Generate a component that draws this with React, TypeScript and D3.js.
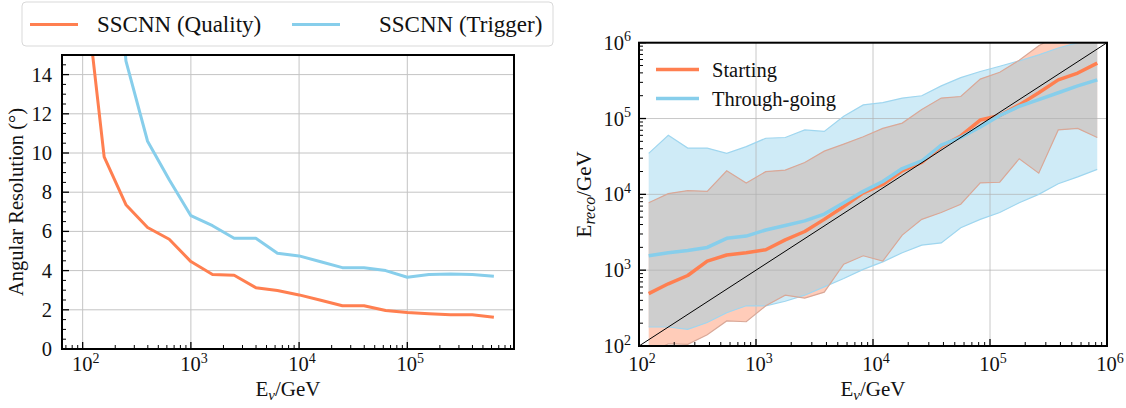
import React from "react";
import * as d3 from "d3";

const FONT = "'Liberation Serif', 'Times New Roman', serif";
const ORANGE = "#FF7F50";
const BLUE = "#87CEEB";

// left panel: angular resolution vs neutrino energy
const angEnergy = [100, 158, 251, 398, 631, 1000, 1585, 2512, 3981, 6310, 10000, 15849, 25119, 39811, 63096, 100000, 158489, 251189, 398107, 630957];
const angQuality = [19.5, 9.8, 7.36, 6.2, 5.6, 4.46, 3.8, 3.76, 3.13, 2.98, 2.76, 2.49, 2.21, 2.21, 1.96, 1.86, 1.8, 1.75, 1.75, 1.62];
const angTrigger = [60, 30, 14.7, 10.6, 8.64, 6.8, 6.29, 5.65, 5.65, 4.89, 4.75, 4.45, 4.15, 4.15, 4.0, 3.66, 3.8, 3.83, 3.8, 3.71];
const angTicks = [0, 2, 4, 6, 8, 10, 12, 14];
const angExps = [2, 3, 4, 5];

// right panel: reconstructed vs true energy (median and band)
const recEnergy = [121, 178, 261, 383, 562, 825, 1212, 1778, 2610, 3831, 5623, 8254, 12115, 17783, 26102, 38312, 56234, 82540, 121153, 177828, 261016, 383119, 562341, 825404];
const startMed = [490, 661, 851, 1318, 1585, 1698, 1862, 2512, 3236, 4677, 6918, 10470, 13490, 20420, 26300, 42660, 58880, 95500, 109600, 151400, 218800, 323600, 398100, 537000];
const startLo = [79, 107, 105, 141, 214, 209, 339, 468, 427, 513, 1200, 1549, 1318, 2900, 4677, 5754, 7413, 14130, 14450, 29510, 19050, 70790, 74130, 56230];
const startHi = [7762, 10230, 11220, 10960, 20420, 14130, 19950, 20890, 26300, 37150, 46000, 57540, 74000, 87000, 131800, 186200, 195000, 331100, 407400, 588800, 912000, 1259000, 1413000, 1585000];
const throughMed = [1549, 1698, 1820, 1995, 2630, 2818, 3388, 3890, 4467, 5495, 7762, 10960, 14790, 21880, 27540, 44670, 56230, 77620, 109600, 144500, 177800, 218800, 269200, 323600];
const throughLo = [178, 178, 166, 204, 275, 339, 339, 389, 468, 603, 776, 1023, 1288, 1698, 2138, 2291, 3631, 4677, 5754, 7762, 10000, 13800, 16980, 21380];
const throughHi = [34670, 60260, 40740, 40740, 34670, 42660, 54950, 56230, 70790, 67610, 107200, 151400, 162200, 186200, 199500, 269200, 346700, 416900, 489800, 575400, 691800, 851100, 1000000, 1122000];
const recExps = [2, 3, 4, 5, 6];

function minorLog(lo: number, hi: number) {
  const out: number[] = [];
  for (let d = Math.floor(Math.log10(lo)); d <= Math.ceil(Math.log10(hi)); d++) {
    for (let m = 2; m <= 9; m++) {
      const v = m * 10 ** d;
      if (v >= lo && v <= hi) out.push(v);
    }
  }
  return out;
}

function Pow({ x, y, exp, anchor }: { x: number; y: number; exp: number; anchor: string }) {
  return (
    <text x={x} y={y} textAnchor={anchor} fontFamily={FONT} fontSize={20.5} fill="#111">
      10
      <tspan dy={-8.5} fontSize={14}>{exp}</tspan>
    </text>
  );
}

function AngularPanel() {
  const left = 62, right = 514, top = 55, bottom = 349;
  const x = d3.scaleLog().domain([10 ** 1.809, 10 ** 5.986]).range([left, right]);
  const y = d3.scaleLinear().domain([0, 15]).range([bottom, top]);
  const line = d3.line<number>().x((_, i) => x(angEnergy[i])).y((d) => y(d));
  const [lo, hi] = x.domain();
  const minorY = d3.range(0, 15.01, 0.5).filter((v) => v % 2 !== 0);

  return (
    <g>
      <defs>
        <clipPath id="clipL">
          <rect x={left} y={top} width={right - left} height={bottom - top} />
        </clipPath>
      </defs>
      {/* grid */}
      {angExps.map((e) => (
        <line key={"gx" + e} x1={x(10 ** e)} x2={x(10 ** e)} y1={top} y2={bottom} stroke="#c4c4c4" strokeWidth={1} />
      ))}
      {angTicks.slice(1).map((t) => (
        <line key={"gy" + t} x1={left} x2={right} y1={y(t)} y2={y(t)} stroke="#c4c4c4" strokeWidth={1} />
      ))}
      <g clipPath="url(#clipL)">
        <path d={line(angQuality) || ""} fill="none" stroke={ORANGE} strokeWidth={3} strokeLinejoin="round" />
        <path d={line(angTrigger) || ""} fill="none" stroke={BLUE} strokeWidth={3} strokeLinejoin="round" />
      </g>
      {/* ticks */}
      {angExps.map((e) => (
        <line key={"tx" + e} x1={x(10 ** e)} x2={x(10 ** e)} y1={bottom} y2={bottom - 7} stroke="#000" strokeWidth={1.3} />
      ))}
      {minorLog(lo, hi).map((v) => (
        <line key={"mx" + v} x1={x(v)} x2={x(v)} y1={bottom} y2={bottom - 4} stroke="#000" strokeWidth={1} />
      ))}
      {angTicks.map((t) => (
        <line key={"ty" + t} x1={left} x2={left + 7} y1={y(t)} y2={y(t)} stroke="#000" strokeWidth={1.3} />
      ))}
      {minorY.map((t) => (
        <line key={"my" + t} x1={left} x2={left + 4} y1={y(t)} y2={y(t)} stroke="#000" strokeWidth={1} />
      ))}
      <rect x={left} y={top} width={right - left} height={bottom - top} fill="none" stroke="#000" strokeWidth={2} />
      {/* tick labels */}
      {angTicks.map((t) => (
        <text key={"ly" + t} x={52} y={y(t) + 7} textAnchor="end" fontFamily={FONT} fontSize={20.5} fill="#111">
          {t}
        </text>
      ))}
      {angExps.map((e) => (
        <Pow key={"lx" + e} x={x(10 ** e) + 3} y={371} exp={e} anchor="middle" />
      ))}
      <text x={(left + right) / 2} y={396} textAnchor="middle" fontFamily={FONT} fontSize={21} fill="#111">
        E<tspan dy={4} fontSize={15} fontStyle="italic">ν</tspan>
        <tspan dy={-4}>/GeV</tspan>
      </text>
      <text transform={`translate(23,${(top + bottom) / 2}) rotate(-90)`} textAnchor="middle" fontFamily={FONT} fontSize={20.5} fill="#111">
        Angular Resolution (°)
      </text>
      {/* legend */}
      <rect x={22} y={2} width={531} height={44} rx={4} fill="#fff" stroke="#d9d9d9" strokeWidth={1} />
      <line x1={30} x2={78} y1={24.5} y2={24.5} stroke={ORANGE} strokeWidth={3} />
      <text x={97} y={32} fontFamily={FONT} fontSize={23} fill="#111">SSCNN (Quality)</text>
      <line x1={292} x2={340} y1={24.5} y2={24.5} stroke={BLUE} strokeWidth={3} />
      <text x={379} y={32} fontFamily={FONT} fontSize={23} fill="#111">SSCNN (Trigger)</text>
    </g>
  );
}

function EnergyPanel() {
  const left = 639, right = 1107, top = 42.7, bottom = 346;
  const x = d3.scaleLog().domain([1e2, 1e6]).range([left, right]);
  const y = d3.scaleLog().domain([1e2, 1e6]).range([bottom, top]);
  const idx = d3.range(recEnergy.length);
  const band = (lo: number[], hi: number[]) =>
    d3.area<number>().x((i) => x(recEnergy[i])).y0((i) => y(lo[i])).y1((i) => y(hi[i]))(idx) || "";
  const edge = (vals: number[]) => d3.line<number>().x((i) => x(recEnergy[i])).y((i) => y(vals[i]))(idx) || "";
  const blueBand = band(throughLo, throughHi);
  const orangeBand = band(startLo, startHi);
  const minors = minorLog(1e2, 1e6);

  return (
    <g>
      <defs>
        <clipPath id="clipR">
          <rect x={left} y={top} width={right - left} height={bottom - top} />
        </clipPath>
        <clipPath id="clipBlue">
          <path d={blueBand} />
        </clipPath>
      </defs>
      <g clipPath="url(#clipR)">
        <path d={blueBand} fill={BLUE} fillOpacity={0.4} />
        <path d={orangeBand} fill={ORANGE} fillOpacity={0.4} />
        <g clipPath="url(#clipBlue)">
          <path d={orangeBand} fill="#cecece" />
        </g>
        {recExps.map((e) => (
          <line key={"gx" + e} x1={x(10 ** e)} x2={x(10 ** e)} y1={top} y2={bottom} stroke="#b0b0b0" strokeOpacity={0.7} strokeWidth={1} />
        ))}
        {recExps.map((e) => (
          <line key={"gy" + e} x1={left} x2={right} y1={y(10 ** e)} y2={y(10 ** e)} stroke="#b0b0b0" strokeOpacity={0.7} strokeWidth={1} />
        ))}
        <path d={edge(throughLo)} fill="none" stroke="#9fd6ef" strokeWidth={1.2} />
        <path d={edge(throughHi)} fill="none" stroke="#9fd6ef" strokeWidth={1.2} />
        <path d={edge(startLo)} fill="none" stroke="#d9a898" strokeWidth={1.2} />
        <path d={edge(startHi)} fill="none" stroke="#d9a898" strokeWidth={1.2} />
        <path d={edge(startMed)} fill="none" stroke={ORANGE} strokeWidth={3.5} strokeLinejoin="round" />
        <path d={edge(throughMed)} fill="none" stroke={BLUE} strokeWidth={3.5} strokeLinejoin="round" />
        <line x1={x(1e2)} y1={y(1e2)} x2={x(1e6)} y2={y(1e6)} stroke="#000" strokeWidth={1} />
      </g>
      {/* ticks */}
      {recExps.map((e) => (
        <g key={"t" + e}>
          <line x1={x(10 ** e)} x2={x(10 ** e)} y1={bottom} y2={bottom - 7} stroke="#000" strokeWidth={1.3} />
          <line x1={left} x2={left + 7} y1={y(10 ** e)} y2={y(10 ** e)} stroke="#000" strokeWidth={1.3} />
        </g>
      ))}
      {minors.map((v) => (
        <g key={"m" + v}>
          <line x1={x(v)} x2={x(v)} y1={bottom} y2={bottom - 4} stroke="#000" strokeWidth={1} />
          <line x1={left} x2={left + 4} y1={y(v)} y2={y(v)} stroke="#000" strokeWidth={1} />
        </g>
      ))}
      <rect x={left} y={top} width={right - left} height={bottom - top} fill="none" stroke="#000" strokeWidth={2} />
      {recExps.map((e) => (
        <Pow key={"lx" + e} x={x(10 ** e) + 3} y={371} exp={e} anchor="middle" />
      ))}
      {recExps.map((e) => (
        <Pow key={"ly" + e} x={631} y={y(10 ** e) + 7} exp={e} anchor="end" />
      ))}
      <text x={(left + right) / 2} y={396} textAnchor="middle" fontFamily={FONT} fontSize={21} fill="#111">
        E<tspan dy={4} fontSize={15} fontStyle="italic">ν</tspan>
        <tspan dy={-4}>/GeV</tspan>
      </text>
      <text transform={`translate(591,${(top + bottom) / 2}) rotate(-90)`} textAnchor="middle" fontFamily={FONT} fontSize={21} fill="#111">
        E<tspan dy={4} fontSize={16} fontStyle="italic">reco</tspan>
        <tspan dy={-4}>/GeV</tspan>
      </text>
      {/* legend */}
      <line x1={656} x2={699} y1={69.5} y2={69.5} stroke={ORANGE} strokeWidth={3.5} />
      <text x={712} y={77} fontFamily={FONT} fontSize={20.5} fill="#111">Starting</text>
      <line x1={656} x2={699} y1={98.5} y2={98.5} stroke={BLUE} strokeWidth={3.5} />
      <text x={712} y={106} fontFamily={FONT} fontSize={20.5} fill="#111">Through-going</text>
    </g>
  );
}

export default function App() {
  return (
    <svg width={1126} height={408} style={{ position: "absolute", left: 0, top: 0, background: "#fff" }}>
      <rect width={1126} height={408} fill="#fff" />
      <AngularPanel />
      <EnergyPanel />
    </svg>
  );
}
